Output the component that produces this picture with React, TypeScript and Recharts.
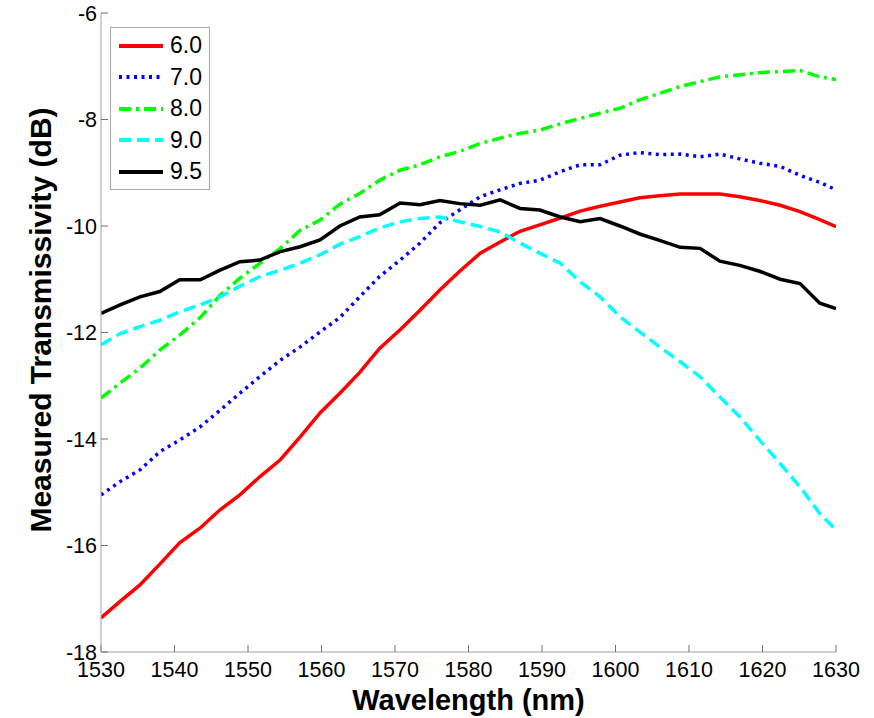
import { Label, Legend, Line, LineChart, XAxis, YAxis } from "recharts";

const wavelengths = [
  1530, 1532.6, 1535.3, 1538.0, 1540.7, 1543.5, 1546.2, 1548.9, 1551.6, 1554.4,
  1557.1, 1559.8, 1562.5, 1565.2, 1567.9, 1570.7, 1573.4, 1576.1, 1578.8, 1581.6,
  1584.3, 1587.0, 1589.7, 1592.5, 1595.2, 1597.9, 1600.6, 1603.3, 1606.0, 1608.8,
  1611.5, 1614.2, 1616.9, 1619.6, 1622.4, 1625.1, 1627.8, 1630,
];

const s60 = [
  -17.36, -17.05, -16.74, -16.35, -15.95, -15.67, -15.33, -15.05, -14.71, -14.39,
  -13.96, -13.51, -13.14, -12.75, -12.3, -11.95, -11.58, -11.2, -10.85, -10.51,
  -10.3, -10.1, -9.98, -9.85, -9.72, -9.63, -9.55, -9.47, -9.43, -9.4,
  -9.4, -9.4, -9.45, -9.52, -9.61, -9.73, -9.88, -10.01,
];

const s70 = [
  -15.05, -14.8, -14.58, -14.24, -14.02, -13.77, -13.46, -13.14, -12.83, -12.52,
  -12.27, -11.99, -11.72, -11.33, -10.95, -10.64, -10.32, -9.94, -9.7, -9.45,
  -9.32, -9.2, -9.14, -8.98, -8.85, -8.85, -8.67, -8.62, -8.66, -8.65,
  -8.7, -8.65, -8.74, -8.82, -8.88, -9.05, -9.18, -9.32,
];

const s80 = [
  -13.23, -12.95, -12.67, -12.33, -12.05, -11.72, -11.3, -10.98, -10.7, -10.42,
  -10.08, -9.89, -9.59, -9.39, -9.14, -8.95, -8.85, -8.7, -8.6, -8.45,
  -8.35, -8.26, -8.2, -8.08, -7.98, -7.88, -7.79, -7.63, -7.51, -7.38,
  -7.29, -7.2, -7.16, -7.12, -7.1, -7.08, -7.2, -7.25,
];

const s90 = [
  -12.23, -12.02, -11.89, -11.77, -11.61, -11.48, -11.33, -11.13, -10.95, -10.83,
  -10.7, -10.54, -10.34, -10.2, -10.04, -9.92, -9.86, -9.83, -9.92, -10.01,
  -10.11, -10.32, -10.51, -10.7, -11.05, -11.33, -11.7, -11.99, -12.27, -12.55,
  -12.83, -13.21, -13.58, -14.02, -14.46, -14.9, -15.4, -15.71,
];

const s95 = [
  -11.64, -11.48, -11.33, -11.23, -11.01, -11.01, -10.83, -10.67, -10.64, -10.48,
  -10.39, -10.26, -10.0, -9.83, -9.79, -9.57, -9.6, -9.52, -9.58, -9.61,
  -9.51, -9.67, -9.7, -9.83, -9.92, -9.86, -10.0, -10.15, -10.27, -10.4,
  -10.42, -10.66, -10.74, -10.85, -11.0, -11.08, -11.45, -11.55,
];

const xTicks = [1530, 1540, 1550, 1560, 1570, 1580, 1590, 1600, 1610, 1620, 1630];
const yTicks = [-18, -16, -14, -12, -10, -8, -6];

const series = [
  { key: "s60", name: "6.0", color: "#ff0000", dash: undefined },
  { key: "s70", name: "7.0", color: "#0000ff", dash: "3 4.5" },
  { key: "s80", name: "8.0", color: "#00ff00", dash: "12 5 3 5" },
  { key: "s90", name: "9.0", color: "#00ffff", dash: "12 6" },
  { key: "s95", name: "9.5", color: "#000000", dash: undefined },
];

const data = wavelengths.map((wl, i) => ({
  wl,
  s60: s60[i],
  s70: s70[i],
  s80: s80[i],
  s90: s90[i],
  s95: s95[i],
}));

const FONT = "'Liberation Sans', Arial, sans-serif";
const AXIS = "#a0a0a0";
const TICK = "#707070";

function LegendBox() {
  return (
    <div
      style={{
        width: 100,
        height: 163,
        boxSizing: "border-box",
        border: "1px solid #a8a8a8",
        background: "#fff",
        paddingTop: 2,
        fontFamily: FONT,
      }}
    >
      {series.map((s) => (
        <div key={s.key} style={{ display: "flex", alignItems: "center", height: 31.5 }}>
          <svg width={44} height={8} style={{ marginLeft: 8, marginRight: 7 }}>
            <line x1={0} y1={4} x2={44} y2={4} stroke={s.color} strokeWidth={4} strokeDasharray={s.dash} />
          </svg>
          <span style={{ fontSize: 23, color: "#000", lineHeight: 1 }}>{s.name}</span>
        </div>
      ))}
    </div>
  );
}

export default function App() {
  return (
    <div style={{ position: "absolute", left: 0, top: 0, width: 874, height: 718, background: "#fff" }}>
      <LineChart width={874} height={718} data={data} margin={{ top: 13, right: 38, bottom: 0, left: 0 }}>
        <XAxis
          dataKey="wl"
          type="number"
          domain={[1530, 1630]}
          ticks={xTicks}
          allowDataOverflow
          height={66}
          tickSize={-7}
          tickMargin={17}
          axisLine={{ stroke: AXIS }}
          tickLine={{ stroke: TICK }}
          tick={{ fill: "#000", fontSize: 21.5, fontFamily: FONT }}
        >
          <Label
            content={({ viewBox }: any) => (
              <text
                x={viewBox.x + viewBox.width / 2}
                y={710}
                textAnchor="middle"
                fontFamily={FONT}
                fontWeight="bold"
                fontSize={29}
                fill="#000"
              >
                Wavelength (nm)
              </text>
            )}
          />
        </XAxis>
        <XAxis
          xAxisId="top"
          orientation="top"
          type="number"
          domain={[1530, 1630]}
          ticks={xTicks}
          allowDataOverflow
          height={0}
          tickSize={-7}
          axisLine={{ stroke: AXIS }}
          tickLine={{ stroke: TICK }}
          tick={false}
        />
        <YAxis
          type="number"
          domain={[-18, -6]}
          ticks={yTicks}
          allowDataOverflow
          width={101}
          tickSize={-7}
          tickMargin={11}
          axisLine={{ stroke: AXIS }}
          tickLine={{ stroke: TICK }}
          tick={{ fill: "#000", fontSize: 21.5, fontFamily: FONT }}
        >
          <Label
            content={() => (
              <text
                x={51}
                y={320}
                transform="rotate(-90, 51, 320)"
                textAnchor="middle"
                fontFamily={FONT}
                fontWeight="bold"
                fontSize={30}
                fill="#000"
              >
                Measured Transmissivity (dB)
              </text>
            )}
          />
        </YAxis>
        <YAxis
          yAxisId="right"
          orientation="right"
          type="number"
          domain={[-18, -6]}
          ticks={yTicks}
          allowDataOverflow
          width={0}
          tickSize={-7}
          axisLine={{ stroke: AXIS }}
          tickLine={{ stroke: TICK }}
          tick={false}
        />
        <Legend
          layout="vertical"
          align="center"
          verticalAlign="middle"
          wrapperStyle={{ left: 110, top: 27, width: 100, height: 163 }}
          content={() => <LegendBox />}
        />
        {series.map((s) => (
          <Line
            key={s.key}
            dataKey={s.key}
            name={s.name}
            type="linear"
            stroke={s.color}
            strokeWidth={3.5}
            strokeDasharray={s.dash}
            dot={false}
            activeDot={false}
            isAnimationActive={false}
          />
        ))}
      </LineChart>
    </div>
  );
}
